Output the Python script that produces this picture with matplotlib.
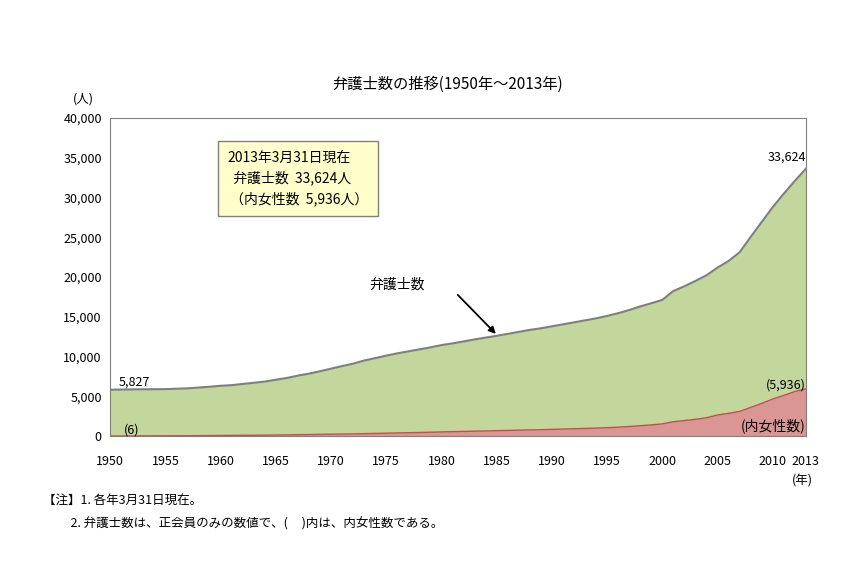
import matplotlib
matplotlib.use("Agg")
import matplotlib.pyplot as plt

plt.rcParams['font.family'] = ['Noto Sans CJK JP']

years = list(range(1950, 2014))
total = [5827, 5850, 5870, 5880, 5890, 5899, 5950, 6000, 6100, 6200,
         6321, 6400, 6550, 6700, 6850, 7082, 7300, 7600, 7850, 8150,
         8478, 8800, 9100, 9500, 9800, 10115, 10400, 10650, 10900, 11150,
         11441, 11650, 11900, 12150, 12380, 12604, 12850, 13100, 13350, 13550,
         13800, 14050, 14300, 14550, 14800, 15108, 15450, 15850, 16300, 16700,
         17126, 18243, 18838, 19508, 20224, 21185, 22021, 23119, 25041, 26930,
         28789, 30485, 32088, 33624]
women = [6, 10, 15, 20, 25, 30, 35, 40, 50, 60,
         70, 80, 90, 100, 110, 130, 150, 170, 190, 210,
         230, 250, 270, 300, 330, 360, 390, 420, 450, 480,
         520, 550, 580, 610, 640, 680, 710, 740, 770, 800,
         840, 880, 920, 960, 1000, 1050, 1120, 1200, 1300, 1400,
         1530, 1800, 1950, 2100, 2300, 2648, 2850, 3100, 3600, 4100,
         4660, 5115, 5595, 5936]
xticks = [1950, 1955, 1960, 1965, 1970, 1975, 1980, 1985, 1990, 1995, 2000, 2005, 2010, 2013]
yticks = list(range(0, 40001, 5000))

fig = plt.figure(figsize=(8.61, 5.70), dpi=100)
ax = fig.add_axes([0.128, 0.235, 0.808, 0.558])
ax.fill_between(years, total, color='#c3d69b', lw=0)
ax.plot(years, total, color='#7f7f7f', lw=1.5)
ax.fill_between(years, women, color='#d99694', lw=0)
ax.plot(years, women, color='#c0504d', lw=1)
ax.set_xlim(1950, 2013)
ax.set_ylim(0, 40000)
ax.set_xticks(xticks)
ax.set_xticklabels([str(x) for x in xticks], fontsize=9)
ax.set_yticks(yticks)
ax.set_yticklabels([f"{y:,}" for y in yticks], fontsize=9)
for s in ax.spines.values():
    s.set_color('#808080')
ax.tick_params(axis='x', length=0, pad=14)
ax.tick_params(axis='y', length=0, pad=6)

fig.text(0.52, 0.845, '弁護士数の推移(1950年～2013年)', ha='center', fontsize=11)
fig.text(0.085, 0.82, '(人)', fontsize=9)
fig.text(0.92, 0.15, '(年)', fontsize=9)
ax.text(1950.8, 6300, '5,827', fontsize=9)
ax.text(1951.2, 300, '(6)', fontsize=9)
ax.text(2013, 34600, '33,624', fontsize=9, ha='right')
ax.text(2013, 6000, '(5,936)', fontsize=9, ha='right')
ax.text(2013, 700, '(内女性数)', fontsize=10, ha='right')
ax.text(1973.5, 18600, '弁護士数', fontsize=10)
ax.annotate('', xy=(1985.1, 12600), xytext=(1981.3, 18000),
            arrowprops=dict(arrowstyle='-|>', color='black', lw=1.3))
ax.text(1960.6, 32400, '2013年3月31日現在\n  弁護士数  33,624人\n （内女性数  5,936人）',
        fontsize=10, va='center', linespacing=1.5,
        bbox=dict(boxstyle='square,pad=0.7', fc='#ffffcc', ec='#808080'))
fig.text(0.05, 0.115, '【注】1. 各年3月31日現在。', fontsize=9)
fig.text(0.05, 0.075, '          2. 弁護士数は、正会員のみの数値で、(     )内は、内女性数である。', fontsize=9)
fig.savefig('out.png')
